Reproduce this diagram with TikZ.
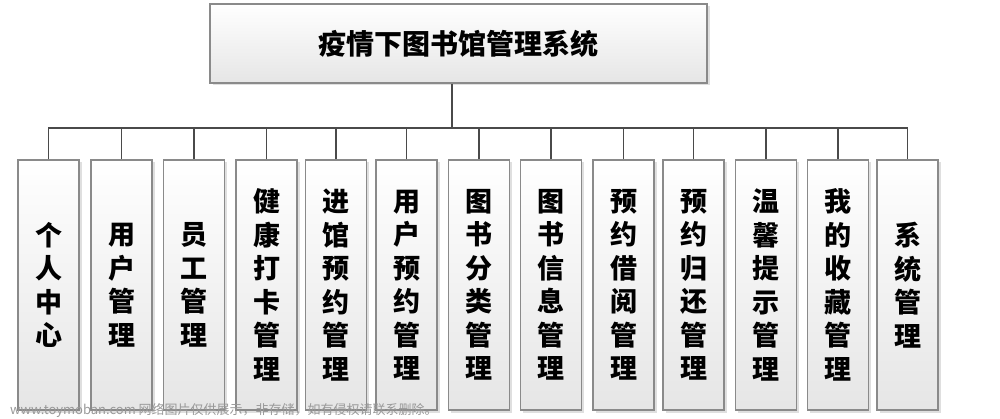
\documentclass[tikz,border=0pt]{standalone}
\usepackage{fontspec}
\newfontfamily\cjk{Noto Sans CJK SC}
\usetikzlibrary{shadows}
\definecolor{wirecolor}{HTML}{4A4A4A}
\definecolor{edgecolor}{HTML}{8A8A8A}

\tikzset{
  shade box/.style={draw=edgecolor, line width=1.1pt, top color=white, bottom color=black!10,
    drop shadow={shadow xshift=2.5pt, shadow yshift=-2.5pt, opacity=.25}, inner sep=0pt},
  rootbox/.style={shade box, minimum width=497pt, minimum height=79pt,
    font=\cjk\bfseries\fontsize{28}{30}\selectfont},
  modbox/.style={shade box, minimum width=61pt, minimum height=250pt, align=center,
    font=\cjk\bfseries\fontsize{27}{33.5}\selectfont},
  wire/.style={draw=wirecolor, line width=1.6pt}
}

\begin{document}
\begin{tikzpicture}[x=1pt,y=-1pt]
  \useasboundingbox (0,0) rectangle (1000,419);
  % top of the tree
  \node[rootbox] (root) at (458.5,43.5) {疫情下图书馆管理系统};
  \coordinate (bar) at (452,128);
  % modules
  \foreach \x/\t [count=\i] in {48.5/{个\\人\\中\\心}, 121.5/{用\\户\\管\\理}, 194/{员\\工\\管\\理},
      266.5/{健\\康\\打\\卡\\管\\理}, 336/{进\\馆\\预\\约\\管\\理}, 406.5/{用\\户\\预\\约\\管\\理},
      479/{图\\书\\分\\类\\管\\理}, 551/{图\\书\\信\\息\\管\\理}, 623.5/{预\\约\\借\\阅\\管\\理},
      693.5/{预\\约\\归\\还\\管\\理}, 766/{温\\馨\\提\\示\\管\\理}, 838/{我\\的\\收\\藏\\管\\理},
      907.5/{系\\统\\管\\理}}
    \node[modbox] (m\i) at (\x,285) {\t};
  % connectors
  \draw[wire] (bar |- root.south) -- (bar);
  \draw[wire] (m1.north) |- (bar) -| (m13.north);
  \foreach \i in {2,...,12}
    \draw[wire] (m\i.north) -- (m\i.north |- bar);
  % watermark
  \node[anchor=west, inner sep=0pt, text=black!40, font=\cjk\fontsize{13}{14}\selectfont] (mark) at (10,410)
    {www.toymoban.com 网络图片仅供展示，非存储，如有侵权请联系删除。};
\end{tikzpicture}
\end{document}
